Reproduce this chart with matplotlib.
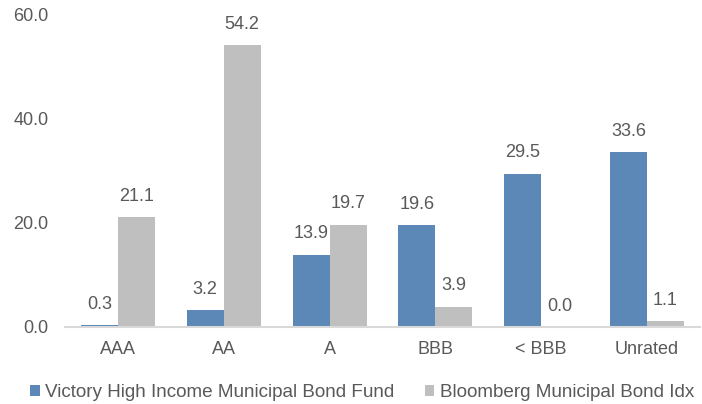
import numpy as np
import matplotlib.pyplot as plt

categories = ["AAA", "AA", "A", "BBB", "< BBB", "Unrated"]
fund = [0.3, 3.2, 13.9, 19.6, 29.5, 33.6]
index = [21.1, 54.2, 19.7, 3.9, 0.0, 1.1]
series_names = ["Victory High Income Municipal Bond Fund", "Bloomberg Municipal Bond Idx"]

plt.rcParams["font.family"] = ["Liberation Sans", "DejaVu Sans"]
txt = "#595959"
blue = "#5B88B6"
grey = "#BFBFBF"

fig = plt.figure(figsize=(7.02, 4.04), dpi=100)
ax = fig.add_axes([0.0926, 0.1906, 0.9044, 0.7724])

x = np.arange(len(categories))
w = 0.35
b1 = ax.bar(x - w / 2, fund, w, color=blue, label=series_names[0])
b2 = ax.bar(x + w / 2, index, w, color=grey, label=series_names[1])

for bars, vals in ((b1, fund), (b2, index)):
    for r, v in zip(bars, vals):
        ax.text(r.get_x() + r.get_width() / 2, v + 2.4, "%.1f" % v,
                ha="center", va="bottom", fontsize=13, color=txt)

ax.set_xlim(-0.5, len(categories) - 0.5)
ax.set_ylim(0, 60)
ax.set_yticks([0, 20, 40, 60])
ax.set_yticklabels(["0.0", "20.0", "40.0", "60.0"])
ax.set_xticks(x)
ax.set_xticklabels(categories)
ax.tick_params(axis="both", length=0, labelsize=13, colors=txt)
ax.tick_params(axis="y", pad=12)
ax.tick_params(axis="x", pad=10)
for s in ["top", "right", "left"]:
    ax.spines[s].set_visible(False)
ax.spines["bottom"].set_color("#D9D9D9")
ax.spines["bottom"].set_linewidth(1.5)

fig.legend(handles=[b1, b2], loc="lower left", bbox_to_anchor=(0.019, -0.035), ncol=2,
           frameon=False, fontsize=13.6, labelcolor=txt, handlelength=0.5, handleheight=0.5,
           handletextpad=0.3, columnspacing=1.6)

fig.savefig("out.png", dpi=100)
